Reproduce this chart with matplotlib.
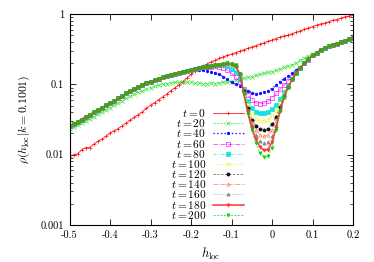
import numpy as np
import matplotlib
matplotlib.use("Agg")
import matplotlib.pyplot as plt
from matplotlib.ticker import FixedLocator, FixedFormatter, NullFormatter

plt.rcParams['font.family'] = 'serif'
plt.rcParams['font.serif'] = ['cmr10', 'DejaVu Serif']
plt.rcParams['mathtext.fontset'] = 'cm'
plt.rcParams['axes.unicode_minus'] = False

# h_loc grid, step 0.01 from -0.5 to 0.2
h = np.round(np.linspace(-0.5, 0.2, 71), 2)

# log10(rho)
# t = 0 and t = 20 over the full range
log_t0 = [-2.03, -2.00, -1.99, -1.93, -1.90, -1.90, -1.85, -1.81, -1.78, -1.74,
          -1.69, -1.66, -1.63, -1.59, -1.55, -1.51, -1.47, -1.43, -1.39, -1.34,
          -1.30, -1.26, -1.22, -1.18, -1.14, -1.09, -1.05, -1.01, -0.96, -0.91,
          -0.86, -0.81, -0.77, -0.74, -0.71, -0.68, -0.66, -0.63, -0.61, -0.59,
          -0.57, -0.55, -0.53, -0.51, -0.49, -0.47, -0.45, -0.43, -0.41, -0.39,
          -0.37, -0.35, -0.33, -0.31, -0.30, -0.28, -0.26, -0.24, -0.22, -0.20,
          -0.18, -0.16, -0.14, -0.13, -0.11, -0.09, -0.08, -0.06, -0.04, -0.03,
          -0.01]
log_t20 = [-1.64, -1.61, -1.58, -1.55, -1.52, -1.49, -1.46, -1.42, -1.39, -1.36,
           -1.33, -1.30, -1.27, -1.24, -1.20, -1.17, -1.14, -1.11, -1.09, -1.07,
           -1.05, -1.03, -1.01, -1.00, -0.99, -0.98, -0.97, -0.97, -0.96, -0.97,
           -0.97, -0.98, -0.98, -0.99, -0.99, -0.98, -0.99, -0.98, -0.97, -0.97,
           -0.96, -0.94, -0.93, -0.91, -0.90, -0.89, -0.87, -0.86, -0.84, -0.83,
           -0.82, -0.80, -0.78, -0.76, -0.74, -0.72, -0.69, -0.66, -0.63, -0.60,
           -0.57, -0.55, -0.51, -0.48, -0.46, -0.44, -0.42, -0.40, -0.38, -0.36,
           -0.34]

# shared by t >= 40: left part (-0.50 .. -0.20) and right part (0.10 .. 0.20)
log_left = [-1.59, -1.56, -1.53, -1.50, -1.46, -1.43, -1.40, -1.37, -1.33, -1.30,
            -1.27, -1.24, -1.20, -1.17, -1.13, -1.10, -1.07, -1.04, -1.01, -0.98,
            -0.96, -0.94, -0.92, -0.90, -0.88, -0.87, -0.85, -0.84, -0.82, -0.81,
            -0.80]
log_right = [-0.59, -0.55, -0.51, -0.48, -0.46, -0.44, -0.42, -0.40, -0.38, -0.36,
             -0.34]

# dip region -0.19 .. 0.09
log_t40 = [-0.79, -0.80, -0.80, -0.81, -0.82, -0.84, -0.86, -0.89, -0.93, -0.97,
           -1.00, -1.03, -1.06, -1.09, -1.12, -1.14, -1.13, -1.11, -1.09, -1.06,
           -1.01, -0.96, -0.92, -0.88, -0.84, -0.80, -0.75, -0.70, -0.65]
log_t60 = [-0.78, -0.77, -0.76, -0.75, -0.75, -0.74, -0.75, -0.77, -0.80, -0.84,
           -0.89, -0.96, -1.06, -1.15, -1.22, -1.26, -1.28, -1.27, -1.24, -1.19,
           -1.13, -1.07, -1.01, -0.95, -0.89, -0.83, -0.77, -0.70, -0.65]
log_t80 = [-0.78, -0.77, -0.76, -0.75, -0.74, -0.73, -0.72, -0.72, -0.74, -0.78,
           -0.83, -0.92, -1.08, -1.24, -1.34, -1.39, -1.41, -1.41, -1.39, -1.35,
           -1.29, -1.21, -1.11, -1.02, -0.93, -0.84, -0.77, -0.69, -0.64]
log_t100 = [-0.78, -0.77, -0.76, -0.75, -0.74, -0.73, -0.72, -0.71, -0.71, -0.72,
            -0.76, -0.86, -1.08, -1.28, -1.42, -1.49, -1.52, -1.52, -1.50, -1.45,
            -1.38, -1.27, -1.14, -1.03, -0.93, -0.84, -0.77, -0.69, -0.64]
log_t120 = [-0.78, -0.77, -0.76, -0.75, -0.74, -0.73, -0.72, -0.71, -0.70, -0.71,
            -0.74, -0.85, -1.10, -1.34, -1.50, -1.59, -1.64, -1.65, -1.63, -1.57,
            -1.47, -1.32, -1.16, -1.04, -0.93, -0.84, -0.77, -0.69, -0.64]
log_t140 = [-0.78, -0.77, -0.76, -0.75, -0.74, -0.73, -0.72, -0.71, -0.70, -0.71,
            -0.73, -0.85, -1.11, -1.37, -1.54, -1.65, -1.72, -1.74, -1.72, -1.65,
            -1.52, -1.35, -1.17, -1.04, -0.93, -0.84, -0.77, -0.69, -0.64]
log_t160 = [-0.78, -0.77, -0.76, -0.75, -0.74, -0.73, -0.72, -0.71, -0.70, -0.71,
            -0.73, -0.85, -1.12, -1.39, -1.58, -1.72, -1.81, -1.84, -1.82, -1.74,
            -1.58, -1.37, -1.18, -1.04, -0.93, -0.84, -0.77, -0.69, -0.64]
log_t180 = [-0.78, -0.77, -0.76, -0.75, -0.74, -0.73, -0.72, -0.71, -0.70, -0.71,
            -0.73, -0.85, -1.12, -1.40, -1.62, -1.78, -1.89, -1.94, -1.93, -1.82,
            -1.62, -1.38, -1.18, -1.04, -0.93, -0.84, -0.77, -0.69, -0.64]
log_t200 = [-0.78, -0.77, -0.76, -0.75, -0.74, -0.73, -0.72, -0.71, -0.70, -0.71,
            -0.73, -0.85, -1.13, -1.41, -1.65, -1.84, -1.97, -2.03, -2.02, -1.90,
            -1.65, -1.38, -1.18, -1.04, -0.93, -0.84, -0.77, -0.69, -0.64]

times = [0, 20, 40, 60, 80, 100, 120, 140, 160, 180, 200]
curves = [log_t0, log_t20] + [log_left + d + log_right for d in
                              [log_t40, log_t60, log_t80, log_t100, log_t120,
                               log_t140, log_t160, log_t180, log_t200]]

styles = [
    dict(color='#ff0000', marker='+', ls='-', mfc='#ff0000', lw=0.6),
    dict(color='#20e020', marker='x', ls=(0, (3, 2)), mfc='#20e020', lw=0.5),
    dict(color='#0000ff', marker=(6, 2, 0), ls=':', mfc='#0000ff', lw=1.0),
    dict(color='#ff00ff', marker='s', ls='-.', mfc='none', lw=0.5),
    dict(color='#00e0e0', marker='s', ls=(0, (4, 2, 1, 2, 1, 2)), mfc='#00e0e0', lw=0.5),
    dict(color='#f0f000', marker='o', ls=':', mfc='none', lw=0.6),
    dict(color='#000000', marker='o', ls=(0, (4, 3)), mfc='#000000', lw=0.4),
    dict(color='#ff7040', marker='^', ls='-.', mfc='none', lw=0.5),
    dict(color='#808080', marker='^', ls=':', mfc='#808080', lw=0.5),
    dict(color='#ff3030', marker='v', ls='-', mfc='#ff3030', lw=1.2),
    dict(color='#00d000', marker='v', ls=(0, (3, 2)), mfc='#00d000', lw=0.5),
]

fig = plt.figure(figsize=(3.74, 2.62), dpi=100)
ax = fig.add_axes([69.5 / 374, 1 - 225 / 262, 283.5 / 374, 211 / 262])

for t, lr, st in zip(times, curves, styles):
    ax.plot(h, 10 ** np.array(lr), color=st['color'], ls=st['ls'], lw=st['lw'],
            alpha=0.9, marker=st['marker'], ms=2.3, mew=0.5, mfc=st['mfc'],
            mec=st['color'], label=r'$t = %d$' % t)

ax.set_xlim(-0.5, 0.2)
ax.set_yscale('log')
ax.set_ylim(0.001, 1)

xt = [-0.5, -0.4, -0.3, -0.2, -0.1, 0, 0.1, 0.2]
ax.xaxis.set_major_locator(FixedLocator(xt))
ax.xaxis.set_major_formatter(FixedFormatter(['-0.5', '-0.4', '-0.3', '-0.2', '-0.1', '0', '0.1', '0.2']))
yt = [0.001, 0.01, 0.1, 1]
ax.yaxis.set_major_locator(FixedLocator(yt))
ax.yaxis.set_major_formatter(FixedFormatter(['0.001', '0.01', '0.1', '1']))
ax.yaxis.set_minor_formatter(NullFormatter())

ax.tick_params(which='both', direction='in', top=True, right=True, labelsize=7.5, pad=4)
ax.tick_params(which='major', length=4, width=0.6)
ax.tick_params(which='minor', length=2, width=0.5)
for sp in ax.spines.values():
    sp.set_linewidth(0.8)

ax.set_xlabel(r'$h_{\rm loc}$', fontsize=9, labelpad=4)
ax.set_ylabel(r'$\rho(h_{\rm loc}|k=0.1001)$', fontsize=8.5, labelpad=6)

leg = ax.legend(loc='lower right', bbox_to_anchor=(0.615, 0.02), frameon=False,
                markerfirst=False, numpoints=1, fontsize=8.2, handlelength=2.7,
                labelspacing=-0.16, handletextpad=0.6, borderpad=0,
                borderaxespad=0)

fig.savefig('out.png', dpi=100)
